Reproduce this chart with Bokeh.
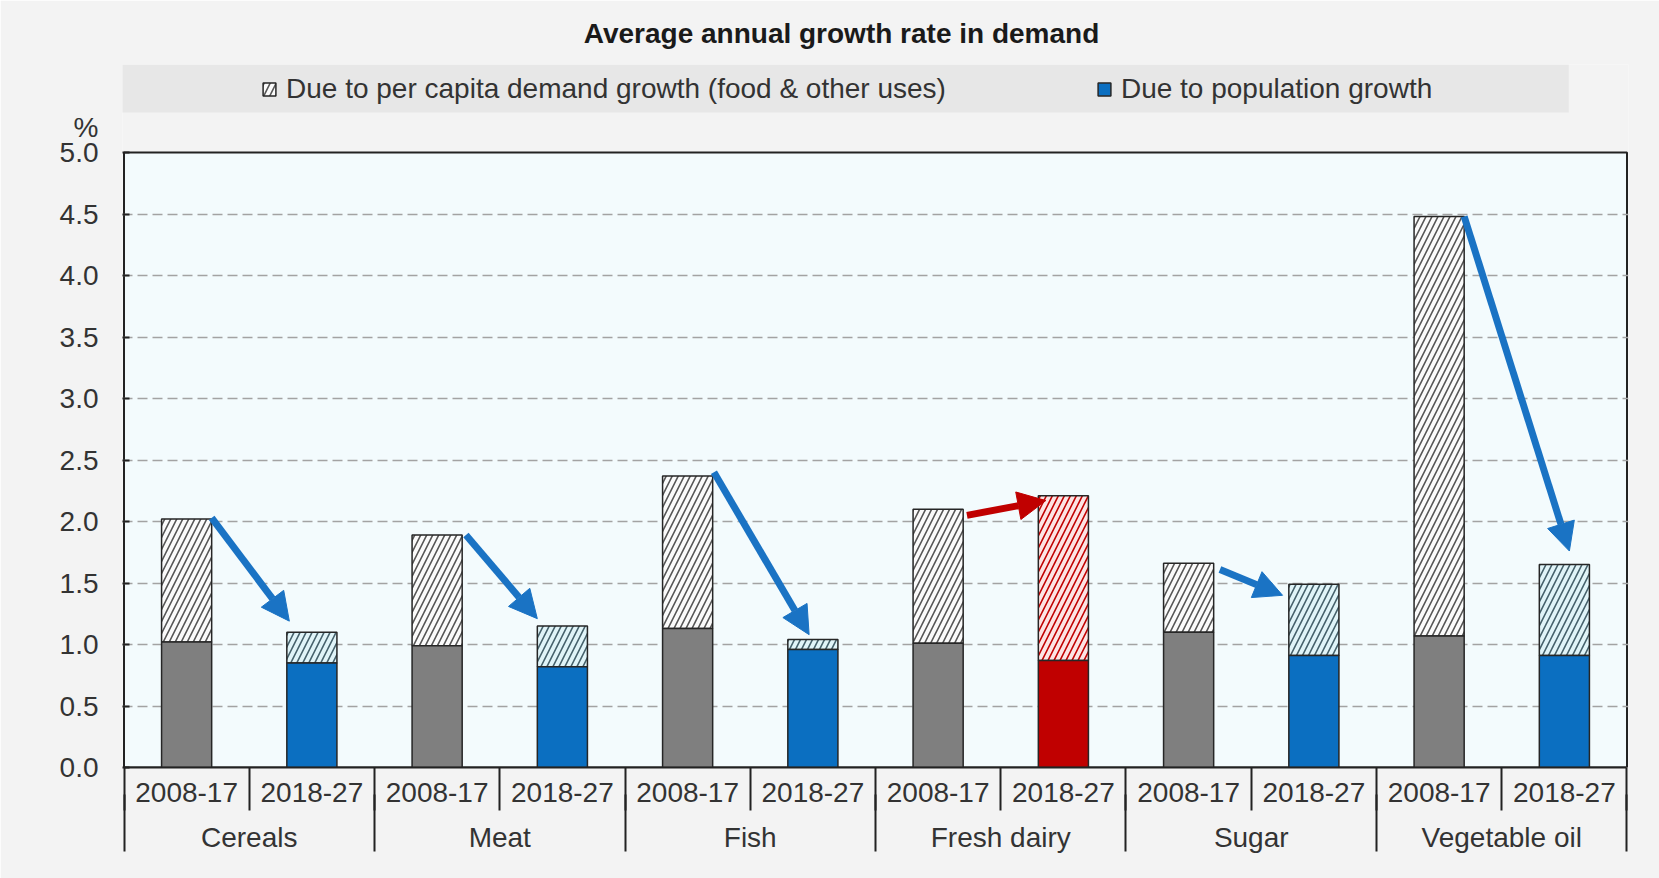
from bokeh.plotting import figure
from bokeh.models import (Range1d, LinearAxis, FixedTicker, Legend, LegendItem, Title,
                          ColumnDataSource, Arrow, NormalHead)
from bokeh.embed import file_html
from bokeh.resources import INLINE

# ---------------- data ----------------
TITLE = "Average annual growth rate in demand"
Y_UNIT = "%"
CATEGORIES = ["Cereals", "Meat", "Fish", "Fresh dairy", "Sugar", "Vegetable oil"]
PERIODS = ["2008-17", "2018-27"]
SERIES = ["Due to per capita demand growth (food & other uses)", "Due to population growth"]

# % per year
POP_2008_17 = [1.02, 0.99, 1.13, 1.01, 1.10, 1.07]
PERCAP_2008_17 = [1.00, 0.90, 1.24, 1.09, 0.56, 3.41]
POP_2018_27 = [0.85, 0.82, 0.96, 0.87, 0.91, 0.91]
PERCAP_2018_27 = [0.25, 0.33, 0.08, 1.34, 0.58, 0.74]

Y_TICKS = [0.0, 0.5, 1.0, 1.5, 2.0, 2.5, 3.0, 3.5, 4.0, 4.5, 5.0]
HIGHLIGHT = "Fresh dairy"

# arrow annotation offsets (tail relative to first bar, tip relative to second bar)
ARROW_TAIL = [(0.20, 0.01), (0.23, 0.0), (0.21, 0.03), (0.23, -0.05), (0.25, -0.05), (0.20, 0.0)]
ARROW_TIP = [(-0.18, 0.09), (-0.20, 0.06), (-0.03, 0.04), (-0.14, -0.04), (-0.25, -0.09), (0.04, 0.11)]

# ---------------- layout / styles ----------------
FONT = "Liberation Sans"
TXT = "#333333"
PAGE = "#f3f3f3"
GREY = "#7f7f7f"
BLUE = "#0b6fc1"
RED = "#c00000"
OUTLINE = "#262626"
PX_PER_UNIT = 123.0          # vertical pixels per 1 %
FRAME_H = 703                # frame includes the legend band above the plot area
Y_END = FRAME_H / PX_PER_UNIT
UNIT_POS = 5.2               # where the "%" unit label sits on the value axis
NX = 2 * len(CATEGORIES)
BAND_X = (-0.05, 11.535)     # grey legend band (x in bar units)
BAND_Y = (5.325, Y_END)      # grey legend band (y in % units)

pops = [POP_2008_17, POP_2018_27]
percs = [PERCAP_2008_17, PERCAP_2018_27]

xs, pop, tot, col, bg, hc = [], [], [], [], [], []
for i, cat in enumerate(CATEGORIES):
    for j, per in enumerate(PERIODS):
        xs.append(2 * i + j + 0.5)
        pop.append(pops[j][i])
        tot.append(pops[j][i] + percs[j][i])
        if j == 0:
            col.append(GREY); bg.append("#fbfbfb"); hc.append("#555555")
        elif cat == HIGHLIGHT:
            col.append(RED); bg.append("#fce4e4"); hc.append("#c00000")
        else:
            col.append(BLUE); bg.append("#e0f4f8"); hc.append("#44606a")

src = ColumnDataSource(dict(x=xs, pop=pop, tot=tot, col=col, bg=bg, hc=hc))

p = figure(width=1659, height=878, x_range=Range1d(-0.012, NX + 0.012), y_range=Range1d(0, Y_END),
           output_backend="svg", toolbar_location=None, title=None,
           min_border_left=122, min_border_right=31, min_border_top=64, min_border_bottom=111)
p.border_fill_color = PAGE
p.background_fill_color = PAGE
p.outline_line_color = None

# plot area (light background with dark frame), drawn below the grid
p.quad(left=0, right=NX, bottom=Y_TICKS[0], top=Y_TICKS[-1], fill_color="#f3fbfd",
       line_color="#222222", line_width=2, level="image")
# grey band behind the legend
p.quad(left=BAND_X[0], right=BAND_X[1], bottom=BAND_Y[0], top=BAND_Y[1], fill_color="#e7e7e7",
       line_color=None, level="image")

# grid
p.xgrid.visible = False
p.ygrid.ticker = FixedTicker(ticks=Y_TICKS[1:-1])
p.ygrid.grid_line_color = "#a3a3a3"
p.ygrid.grid_line_dash = "10 5"
p.ygrid.grid_line_width = 1.5

# y axis (value ticks + unit label on top)
ya = p.yaxis[0]
ya.ticker = FixedTicker(ticks=Y_TICKS + [UNIT_POS], minor_ticks=Y_TICKS)
ya.major_label_overrides = {**{t: f"{t:.1f}" for t in Y_TICKS}, UNIT_POS: Y_UNIT}
ya.bounds = (Y_TICKS[0], UNIT_POS + 0.05)
ya.major_tick_in = 0
ya.major_tick_out = 0
ya.major_tick_line_color = None
ya.minor_tick_in = 7
ya.minor_tick_out = 0
ya.minor_tick_line_color = "#222222"
ya.minor_tick_line_width = 2
ya.axis_line_color = None
ya.major_label_standoff = 24
ya.major_label_text_font = FONT
ya.major_label_text_font_size = "28px"
ya.major_label_text_color = TXT

# x axis 1: periods
xa = p.xaxis[0]
xa.ticker = FixedTicker(ticks=xs, minor_ticks=list(range(0, NX + 1)))
xa.major_label_overrides = {x: PERIODS[k % 2] for k, x in enumerate(xs)}
xa.bounds = (0, NX)
xa.major_tick_in = 0
xa.major_tick_out = 0
xa.minor_tick_in = 0
xa.minor_tick_out = 43
xa.minor_tick_line_color = "#222222"
xa.minor_tick_line_width = 2
xa.axis_line_color = "#222222"
xa.axis_line_width = 2
xa.major_label_standoff = -28
xa.major_label_text_font = FONT
xa.major_label_text_font_size = "28px"
xa.major_label_text_color = TXT

# x axis 2: categories
centers = [2 * i + 1 for i in range(len(CATEGORIES))]
xa2 = LinearAxis(ticker=FixedTicker(ticks=centers, minor_ticks=list(range(0, NX + 1, 2))),
                 major_label_overrides={c: CATEGORIES[i] for i, c in enumerate(centers)},
                 axis_line_color=None, major_tick_in=0, major_tick_out=0, major_tick_line_color=None,
                 minor_tick_in=10, minor_tick_out=47, minor_tick_line_color="#222222", minor_tick_line_width=2,
                 major_label_standoff=-30, major_label_text_font=FONT, major_label_text_font_size="28px",
                 major_label_text_color=TXT)
p.add_layout(xa2, "below")

# bars
r_top = p.vbar(x="x", bottom="pop", top="tot", width=0.4, source=src, fill_color="bg",
               hatch_pattern="/", hatch_color="hc", hatch_scale=12, hatch_weight=1.6,
               line_color=OUTLINE, line_width=1.5)
r_bot = p.vbar(x="x", bottom=0, top="pop", width=0.4, source=src, fill_color="col",
               line_color=OUTLINE, line_width=1.5)

# arrows
for i, cat in enumerate(CATEGORIES):
    c = RED if cat == HIGHLIGHT else "#1a73c4"
    x1, x2 = xs[2 * i], xs[2 * i + 1]
    t1, t2 = tot[2 * i], tot[2 * i + 1]
    p.add_layout(Arrow(x_start=x1 + ARROW_TAIL[i][0], y_start=t1 + ARROW_TAIL[i][1],
                       x_end=x2 + ARROW_TIP[i][0], y_end=t2 + ARROW_TIP[i][1],
                       line_color=c, line_width=7, start=None,
                       end=NormalHead(size=28, fill_color=c, line_color=c, line_width=1)))

# legend on the grey band at the top of the frame
legend = Legend(items=[LegendItem(label=SERIES[0], renderers=[r_top], index=0),
                       LegendItem(label=SERIES[1], renderers=[r_bot], index=1)],
                orientation="horizontal", location=(139, FRAME_H - 41), padding=8, margin=0,
                spacing=150, glyph_width=16, glyph_height=16, label_standoff=9,
                label_text_font=FONT, label_text_font_size="28px", label_text_color=TXT,
                background_fill_alpha=0, border_line_color=None)
p.add_layout(legend)

p.add_layout(Title(text=TITLE, align="center", standoff=31, padding=dict(left=0, right=68, top=0, bottom=0),
                   text_font=FONT, text_font_size="28px", text_font_style="bold",
                   text_color="#1a1a1a"), "above")

open("out.html", "w").write(file_html(p, INLINE))
